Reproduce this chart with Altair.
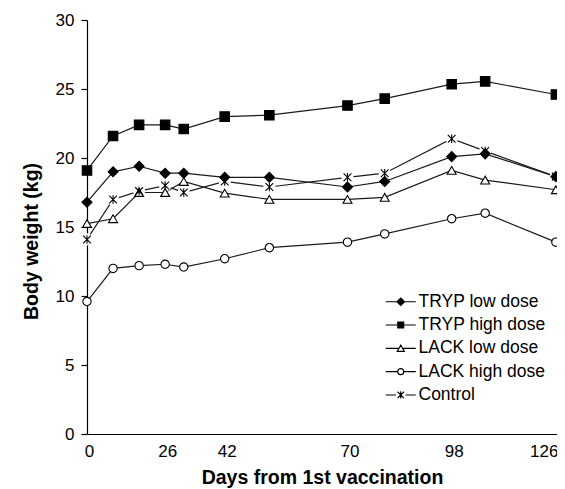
import altair as alt
import pandas as pd

days = [0, 7, 14, 21, 26, 37, 49, 70, 80, 98, 107, 126]
series_names = ["TRYP low dose", "TRYP high dose", "LACK low dose", "LACK high dose", "Control"]
tryp_low = [16.8, 19.0, 19.4, 18.9, 18.9, 18.6, 18.6, 17.9, 18.3, 20.1, 20.3, 18.65]
tryp_high = [19.1, 21.6, 22.4, 22.4, 22.1, 23.0, 23.1, 23.8, 24.3, 25.35, 25.55, 24.6]
lack_low = [15.25, 15.6, 17.5, 17.5, 18.3, 17.45, 17.0, 17.0, 17.15, 19.1, 18.4, 17.7]
lack_high = [9.6, 12.0, 12.2, 12.3, 12.1, 12.7, 13.5, 13.9, 14.5, 15.6, 16.0, 13.9]
control = [14.1, 17.0, 17.6, 18.0, 17.5, 18.3, 17.9, 18.6, 18.9, 21.4, 20.5, 18.65]

tick_days = [0, 21, 37, 70, 98, 126]
tick_text = ["0", "26", "42", "70", "98", "126"]
y_ticks = [0, 5, 10, 15, 20, 25, 30]

values = [tryp_low, tryp_high, lack_low, lack_high, control]
rows = []
for name, vals in zip(series_names, values):
    for d, v in zip(days, vals):
        rows.append({"day": d, "weight": v, "series": name})
df = pd.DataFrame(rows)

FONT = "Liberation Sans"
STAR = "M-1,-1L1,1M-1,1L1,-1M0,-1.1L0,1.1"
chart_shapes = ["diamond", "square", "triangle-up", "circle", STAR]
chart_fills = ["black", "black", "white", "white", "white"]
chart_strokes = ["black"] * 5
chart_sizes = [100, 60, 95, 80, 90]

legend_paths = [
    "M-3.75,0H3.75M0,-0.95L0.95,0L0,0.95L-0.95,0Z",
    "M-3.75,0H3.75M-0.75,-0.75H0.75V0.75H-0.75Z",
    "M-3.75,0H-0.45M0.45,0H3.75M0,-0.8L0.9,0.75L-0.9,0.75Z",
    "M-3.75,0H-0.75M0.75,0H3.75M0.75,0A0.75,0.75,0,1,1,-0.75,0A0.75,0.75,0,1,1,0.75,0Z",
    "M-3.75,0H-1.2M1.2,0H3.75M-0.8,-0.8L0.8,0.8M-0.8,0.8L0.8,-0.8M0,-0.9V0.9",
]

label_expr = "{}[indexof({}, datum.value)]".format(
    "[" + ",".join("'" + t + "'" for t in tick_text) + "]",
    "[" + ",".join(str(t) for t in tick_days) + "]",
)

x_enc = alt.X(
    "day:Q",
    scale=alt.Scale(domain=[0, 126.3], nice=False, zero=False),
    axis=alt.Axis(
        values=tick_days,
        labelExpr=label_expr,
        labelAlign={"expr": "datum.value >= 126 ? 'right' : 'center'"},
        labelOffset=2,
        ticks=False,
        grid=False,
        labelFontSize=17,
        labelPadding=9,
        labelColor="black",
        title="Days from 1st vaccination",
        titleFontSize=19.5,
        titleFontWeight="bold",
        titleColor="black",
        titlePadding=9,
        domainColor="black",
        domainWidth=1.2,
    ),
)
y_enc = alt.Y(
    "weight:Q",
    scale=alt.Scale(domain=[0, 30], nice=False),
    axis=alt.Axis(
        values=y_ticks,
        tickSize=6,
        tickColor="black",
        tickWidth=1.2,
        grid=False,
        labelFontSize=17,
        labelPadding=7,
        labelColor="black",
        title="Body weight (kg)",
        titleFontSize=19.5,
        titleFontWeight="bold",
        titleColor="black",
        titlePadding=14,
        titleY=221,
        domainColor="black",
        domainWidth=1.2,
    ),
)

base = alt.Chart(df)

lines = base.mark_line(color="#1a1a1a", strokeWidth=1.2).encode(
    x=x_enc, y=y_enc, detail="series:N", order="day:Q"
)

halo = base.transform_filter("datum.series == 'Control'").mark_circle(
    color="white", size=150, opacity=1
).encode(x="day:Q", y="weight:Q")

points = base.mark_point(filled=True, stroke="black", strokeWidth=1.1, opacity=1).encode(
    x="day:Q",
    y="weight:Q",
    shape=alt.Shape("series:N", scale=alt.Scale(domain=series_names, range=chart_shapes), legend=None),
    fill=alt.Fill("series:N", scale=alt.Scale(domain=series_names, range=chart_fills), legend=None),
    size=alt.Size("series:N", scale=alt.Scale(domain=series_names, range=chart_sizes), legend=None),
)

leg = dict(
    title=None,
    orient="none",
    legendX=305,
    legendY=273,
    labelFont=FONT,
    labelFontSize=17.5,
    labelColor="black",
    labelOffset=9,
    rowPadding=4.3,
    padding=0,
    symbolOffset=0,
    symbolSize=64,
    symbolStrokeWidth=1.1,
    symbolStrokeColor="black",
)

legend_layer = base.transform_filter("datum.day < 0").mark_point(
    filled=True, stroke="black", strokeWidth=1.1, size=64, opacity=1
).encode(
    x="day:Q",
    y="weight:Q",
    shape=alt.Shape("series:N", scale=alt.Scale(domain=series_names, range=legend_paths), legend=alt.Legend(**leg)),
    fill=alt.Fill("series:N", scale=alt.Scale(domain=series_names, range=chart_fills), legend=alt.Legend(**leg)),
    stroke=alt.Stroke("series:N", scale=alt.Scale(domain=series_names, range=chart_strokes), legend=alt.Legend(**leg)),
)

chart = (
    alt.layer(lines, halo, points, legend_layer)
    .resolve_scale(shape="independent", fill="independent", size="independent", stroke="independent")
    .properties(
        width=470,
        height=414,
        autosize=alt.AutoSizeParams(type="none"),
        padding={"left": 79, "top": 12, "right": 0, "bottom": 58},
    )
    .configure(font=FONT)
    .configure_view(stroke=None)
)

chart.save("out.html", embed_options={"renderer": "svg", "actions": False})
